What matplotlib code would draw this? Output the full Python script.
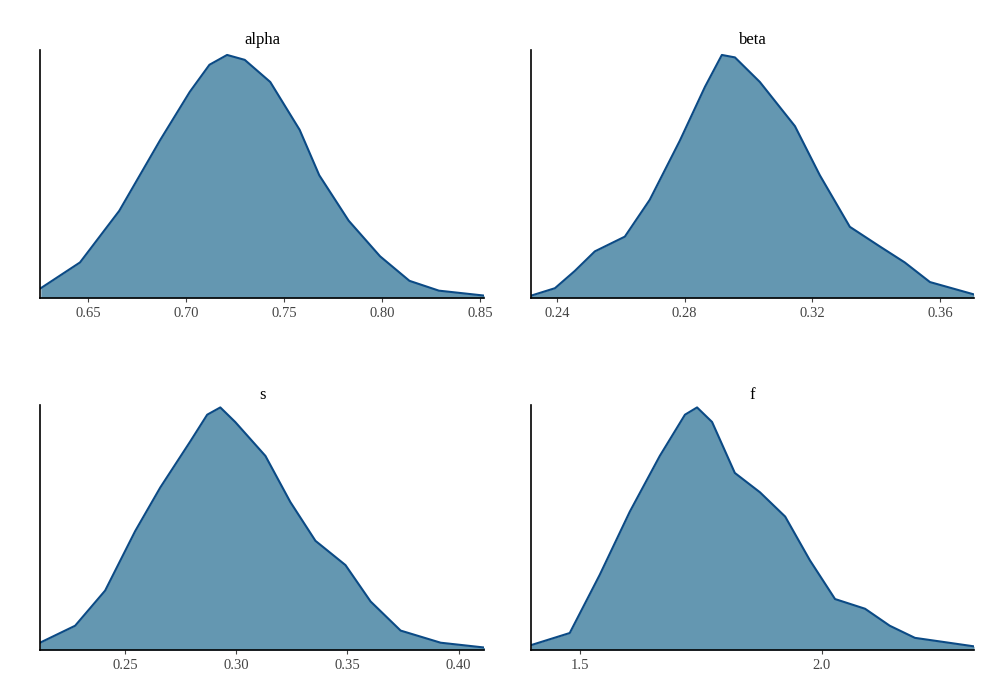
import matplotlib
matplotlib.use("Agg")
import matplotlib.pyplot as plt

alpha_x = [0.626,0.646,0.666,0.687,0.702,0.712,0.721,0.730,0.743,0.758,0.768,0.783,0.799,0.814,0.829,0.852]
alpha_y = [0.04,0.145,0.355,0.645,0.84,0.95,0.99,0.97,0.88,0.685,0.5,0.315,0.17,0.07,0.03,0.01]
beta_x = [0.232,0.2394,0.2456,0.2519,0.2613,0.2691,0.2785,0.2864,0.2917,0.2958,0.3036,0.3146,0.3224,0.3318,0.3412,0.3490,0.3569,0.3706]
beta_y = [0.01,0.04,0.11,0.19,0.25,0.40,0.64,0.86,0.99,0.98,0.88,0.70,0.50,0.29,0.21,0.145,0.065,0.015]
s_x = [0.2117,0.2275,0.241,0.2545,0.2658,0.2793,0.2869,0.2928,0.2995,0.3131,0.3243,0.3356,0.3491,0.3604,0.3739,0.3919,0.4117]
s_y = [0.03,0.10,0.245,0.49,0.67,0.86,0.97,1.0,0.94,0.80,0.61,0.45,0.35,0.20,0.08,0.03,0.01]
f_x = [1.399,1.479,1.541,1.603,1.665,1.717,1.742,1.773,1.820,1.872,1.924,1.975,2.027,2.089,2.140,2.192,2.314]
f_y = [0.02,0.07,0.31,0.57,0.80,0.97,1.0,0.94,0.73,0.65,0.55,0.37,0.21,0.17,0.10,0.05,0.015]

panels = [
    ("alpha", alpha_x, alpha_y, (0.6256, 0.852), [0.65,0.70,0.75,0.80,0.85], "%.2f", [0.04,0.5718,0.444,0.3563]),
    ("beta", beta_x, beta_y, (0.2319, 0.3707), [0.24,0.28,0.32,0.36], "%.2f", [0.531,0.5718,0.443,0.3563]),
    ("s", s_x, s_y, (0.2117, 0.4114), [0.25,0.30,0.35,0.40], "%.2f", [0.04,0.0661,0.444,0.352]),
    ("f", f_x, f_y, (1.399, 2.314), [1.5,2.0], "%.1f", [0.531,0.0661,0.443,0.352]),
]

plt.rcParams['font.family'] = ['Liberation Serif', 'DejaVu Serif']
fig = plt.figure(figsize=(10, 6.96), dpi=100)
for title, xs, ys, xl, ticks, fmt, pos in panels:
    ax = fig.add_axes(pos)
    ax.fill_between(xs, 0, ys, color="#6497b1", linewidth=0)
    ax.plot(xs, ys, color="#0b4a85", linewidth=1.5)
    ax.set_xlim(*xl)
    ax.set_ylim(0, 1.01)
    ax.set_xticks(ticks)
    ax.set_xticklabels([fmt % t for t in ticks], fontsize=10.5, color="#444444")
    ax.set_yticks([])
    for sp in ("top", "right"):
        ax.spines[sp].set_visible(False)
    ax.spines["left"].set_linewidth(1.2)
    ax.spines["bottom"].set_linewidth(1.2)
    ax.tick_params(axis='x', length=3, color="#444444")
    ax.set_title(title, fontsize=12, pad=4)
fig.savefig("out.png", dpi=100)
